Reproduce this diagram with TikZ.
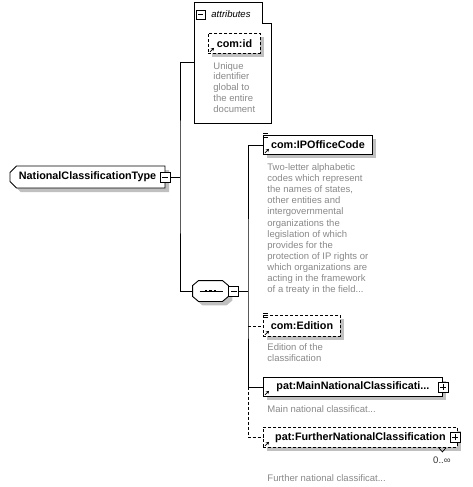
\documentclass[tikz,border=0pt]{standalone}
\usepackage{fontspec}
\setmainfont{Liberation Sans}
\usetikzlibrary{shapes.misc,shadows,arrows.meta}
\definecolor{descgray}{RGB}{136,136,136}
\definecolor{shadowgray}{RGB}{192,192,192}

\begin{document}
\begin{tikzpicture}[x=1pt,y=-1pt,line width=0.9pt,
  boxshadow/.style={drop shadow={shadow xshift=4pt,shadow yshift=-4pt,fill=shadowgray,opacity=1}},
  elem/.style={draw,fill=white,boxshadow,inner sep=0pt,minimum height=19pt,anchor=north west,font=\fontsize{10.8}{13}\selectfont\bfseries},
  optional/.style={dash pattern=on 3pt off 2pt},
  desc/.style={anchor=north west,inner sep=0pt,align=left,text=descgray,font=\fontsize{9.5}{11.1}\selectfont},
  pmbox/.style={draw,fill=white,line width=0.7pt,minimum size=10pt,inner sep=0pt,
    path picture={\draw[line width=0.7pt] ([xshift=2pt]path picture bounding box.west) -- ([xshift=-2pt]path picture bounding box.east);}},
  plusbox/.style={draw,fill=white,line width=0.7pt,minimum size=10pt,inner sep=0pt,
    path picture={\draw[line width=0.7pt] ([xshift=2pt]path picture bounding box.west) -- ([xshift=-2pt]path picture bounding box.east);
      \draw[line width=0.7pt] ([yshift=2pt]path picture bounding box.south) -- ([yshift=-2pt]path picture bounding box.north);}},
  icon/.style={line width=0.8pt,-{Stealth[length=3pt,width=3.5pt]}},
  rootbox/.style={draw,fill=white,boxshadow,chamfered rectangle,chamfered rectangle corners={north west,south west},
    chamfered rectangle xsep=3pt,inner sep=0pt,minimum width=155pt,minimum height=22pt,font=\fontsize{10.8}{13}\selectfont\bfseries},
  seqoutline/.style={draw,fill=white,preaction={fill=shadowgray,transform canvas={shift={(4pt,-4pt)}}}}]
\useasboundingbox (0,0) rectangle (472,487);

\node[rootbox] (root) at (87.5,177) {NationalClassificationType};
\node[pmbox] (rootpm) at (root.east) {};

\node[minimum width=77pt,minimum height=121pt,inner sep=0pt,anchor=north west] (attr) at (194,2) {};
\draw (attr.north west) -- ++(68,0) -- ++(0,21) -| (attr.south east) -- (attr.south west) -- cycle;
\node[pmbox,minimum size=9pt] (attrpm) at (200.5,14.5) {};
\node[anchor=west,inner sep=0pt,font=\fontsize{9.5}{11}\selectfont\itshape] (attrlabel) at (211,14.5) {attributes};
\node[elem,optional,minimum width=52pt,minimum height=20pt] (id) at (208,33) {com:id};
\draw[icon] ([shift={(2,-2)}]id.south west) -- ++(4,-4);
\node[desc,font=\fontsize{9.5}{10.8}\selectfont] (iddesc) at (213,61.7) {Unique\\identifier\\global to\\the entire\\document};

\node[minimum width=35pt,minimum height=20pt,inner sep=0pt] (seq) at (210.5,291) {};
\draw[seqoutline] ([xshift=6pt]seq.north west) -- ([xshift=-6pt]seq.north east) -- ([yshift=-5pt]seq.north east)
  -- ([yshift=5pt]seq.south east) -- ([xshift=-6pt]seq.south east) -- ([xshift=6pt]seq.south west)
  -- ([yshift=5pt]seq.south west) -- ([yshift=-5pt]seq.north west) -- cycle;
\draw ([xshift=-11pt]seq.center) -- ([xshift=12pt]seq.center);
\fill ([xshift=-4.5pt]seq.center) +(-1.4,-1.4) rectangle +(1.4,1.4);
\fill (seq.center) +(-1.4,-1.4) rectangle +(1.4,1.4);
\fill ([xshift=4.5pt]seq.center) +(-1.4,-1.4) rectangle +(1.4,1.4);
\node[pmbox,anchor=west] (seqpm) at (seq.east) {};

\coordinate (bus1) at (180,177);
\draw (rootpm.east) -- (bus1);
\draw (attr.west) -| (bus1) |- (seq.west);
\coordinate (bus2) at (248,291);
\draw (seqpm.east) -- (bus2);

\node[elem,minimum width=109pt] (ipo) at (263,135) {com:IPOfficeCode};
\draw[line width=0.6pt] ([shift={(0,-2)}]ipo.north west) -- ++(5,0);
\draw[line width=0.6pt] (ipo.north west) -- ++(5,0);
\draw[line width=0.6pt] ([shift={(0,2)}]ipo.north west) -- ++(5,0);
\draw[icon] ([shift={(2,-2)}]ipo.south west) -- ++(4,-4);
\node[desc] (ipodesc) at (267,163.2) {Two-letter alphabetic\\codes which represent\\the names of states,\\other entities and\\intergovernmental\\organizations the\\legislation of which\\provides for the\\protection of IP rights or\\which organizations are\\acting in the framework\\of a treaty in the field...};

\node[elem,optional,minimum width=77pt,minimum height=21pt] (edition) at (263,315) {com:Edition};
\draw[line width=0.6pt] ([shift={(0,-2)}]edition.north west) -- ++(5,0);
\draw[line width=0.6pt] (edition.north west) -- ++(5,0);
\draw[line width=0.6pt] ([shift={(0,2)}]edition.north west) -- ++(5,0);
\draw[icon] ([shift={(2,-2)}]edition.south west) -- ++(4,-4);
\node[desc] (editiondesc) at (267,342.7) {Edition of the\\classification};

\node[elem,minimum width=179pt] (main) at (263,377) {pat:MainNationalClassificati...};
\node[plusbox] (mainpm) at (main.east) {};
\draw[icon] ([shift={(2,-2)}]main.south west) -- ++(4,-4);
\node[desc] (maindesc) at (267,404.7) {Main national classificat...};

\node[elem,optional,minimum width=194pt,minimum height=20pt] (further) at (263,427) {pat:FurtherNationalClassification};
\node[plusbox] (furtherpm) at ([xshift=-3pt]further.east) {};
\draw[icon] ([shift={(2,-2)}]further.south west) -- ++(4,-4);
\draw[line width=0.7pt] ([xshift=-19pt]further.south east) -- ++(3.5,4) -- ++(3.5,-4);
\node[anchor=base east,inner sep=0pt,text=black!80,font=\fontsize{9.5}{11}\selectfont] (furthermult) at (451,463.5) {0..∞};
\node[desc] (furtherdesc) at (267,473.7) {Further national classificat...};

\draw (ipo.west) -| (bus2) |- (main.west);
\draw[optional] (bus2 |- edition.west) -- (edition.west);
\draw[optional] (bus2 |- main.west) |- (further.west);
\end{tikzpicture}
\end{document}
